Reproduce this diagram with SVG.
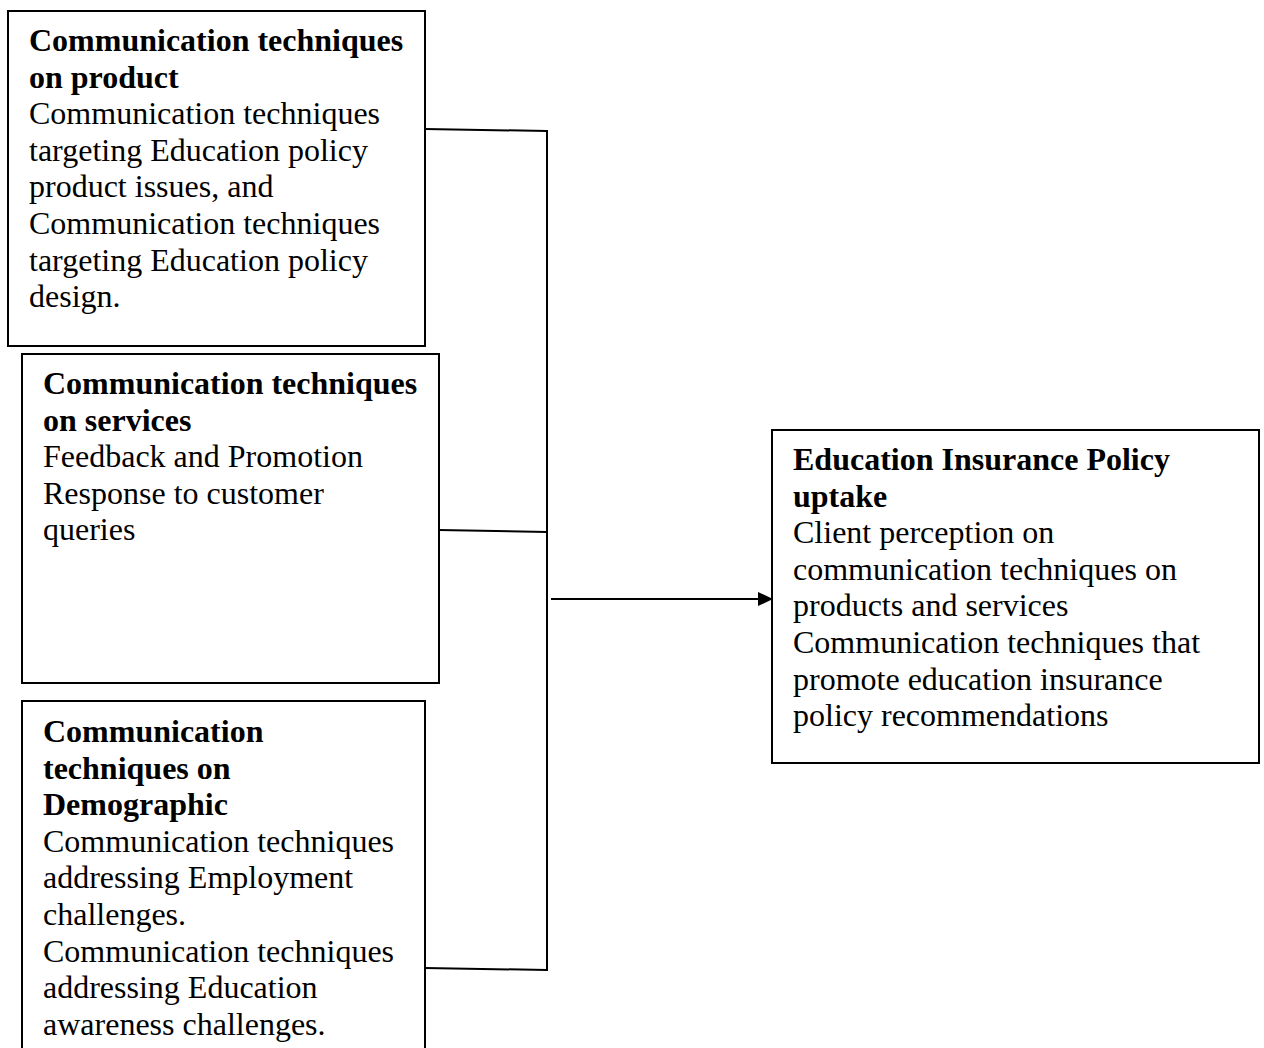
<svg xmlns="http://www.w3.org/2000/svg" width="1264" height="1048" viewBox="0 0 1264 1048">
<style>
.box{fill:#fff;stroke:#000;stroke-width:2}
.t{font-family:"Liberation Serif","Times New Roman",serif;font-size:32px;fill:#000}
.b{font-weight:bold}
.c{fill:none;stroke:#000;stroke-width:2}
</style>
<defs>
<marker id="arr" markerWidth="10" markerHeight="10" refX="10" refY="5" orient="auto" markerUnits="userSpaceOnUse" viewBox="0 0 10 10">
<path d="M0,0 L10,5 L0,10 Z" fill="#000"/>
</marker>
<marker id="arrh" markerWidth="16" markerHeight="16" refX="15" refY="8" orient="auto" markerUnits="userSpaceOnUse" viewBox="0 0 16 16">
<path d="M0,1 L15,8 L0,15 Z" fill="#000"/>
</marker>
</defs>
<rect width="1264" height="1048" fill="#fff"/>
<g id="connectors">
<polyline class="c" points="425,129 547,131"/>
<polyline class="c" points="439,530 547,532"/>
<polyline class="c" points="425,968 547,970"/>
<line class="c" x1="547" y1="130" x2="547" y2="971"/>
<line class="c" x1="551" y1="599" x2="773" y2="599" marker-end="url(#arrh)"/>
</g>
<g id="node-product">
<rect class="box" x="8" y="11" width="417" height="335"/>
<text class="t" x="29">
<tspan class="b" x="29" y="51">Communication techniques</tspan>
<tspan class="b" x="29" y="87.6">on product</tspan>
<tspan x="29" y="124.2">Communication techniques</tspan>
<tspan x="29" y="160.8">targeting Education policy</tspan>
<tspan x="29" y="197.4">product issues, and</tspan>
<tspan x="29" y="234">Communication techniques</tspan>
<tspan x="29" y="270.6">targeting Education policy</tspan>
<tspan x="29" y="307.2">design.</tspan>
</text>
</g>
<g id="node-services">
<rect class="box" x="22" y="354" width="417" height="329"/>
<text class="t">
<tspan class="b" x="43" y="394">Communication techniques</tspan>
<tspan class="b" x="43" y="430.6">on services</tspan>
<tspan x="43" y="467.2">Feedback and Promotion</tspan>
<tspan x="43" y="503.8">Response to customer</tspan>
<tspan x="43" y="540.4">queries</tspan>
</text>
</g>
<g id="node-demographic">
<rect class="box" x="22" y="701" width="403" height="360"/>
<text class="t">
<tspan class="b" x="43" y="742">Communication</tspan>
<tspan class="b" x="43" y="778.6">techniques on</tspan>
<tspan class="b" x="43" y="815.2">Demographic</tspan>
<tspan x="43" y="851.8">Communication techniques</tspan>
<tspan x="43" y="888.4">addressing Employment</tspan>
<tspan x="43" y="925">challenges.</tspan>
<tspan x="43" y="961.6">Communication techniques</tspan>
<tspan x="43" y="998.2">addressing Education</tspan>
<tspan x="43" y="1034.8">awareness challenges.</tspan>
</text>
</g>
<g id="node-uptake">
<rect class="box" x="772" y="430" width="487" height="333"/>
<text class="t">
<tspan class="b" x="793" y="470">Education Insurance Policy</tspan>
<tspan class="b" x="793" y="506.6">uptake</tspan>
<tspan x="793" y="543.2">Client perception on</tspan>
<tspan x="793" y="579.8">communication techniques on</tspan>
<tspan x="793" y="616.4">products and services</tspan>
<tspan x="793" y="653">Communication techniques that</tspan>
<tspan x="793" y="689.6">promote education insurance</tspan>
<tspan x="793" y="726.2">policy recommendations</tspan>
</text>
</g>
</svg>
